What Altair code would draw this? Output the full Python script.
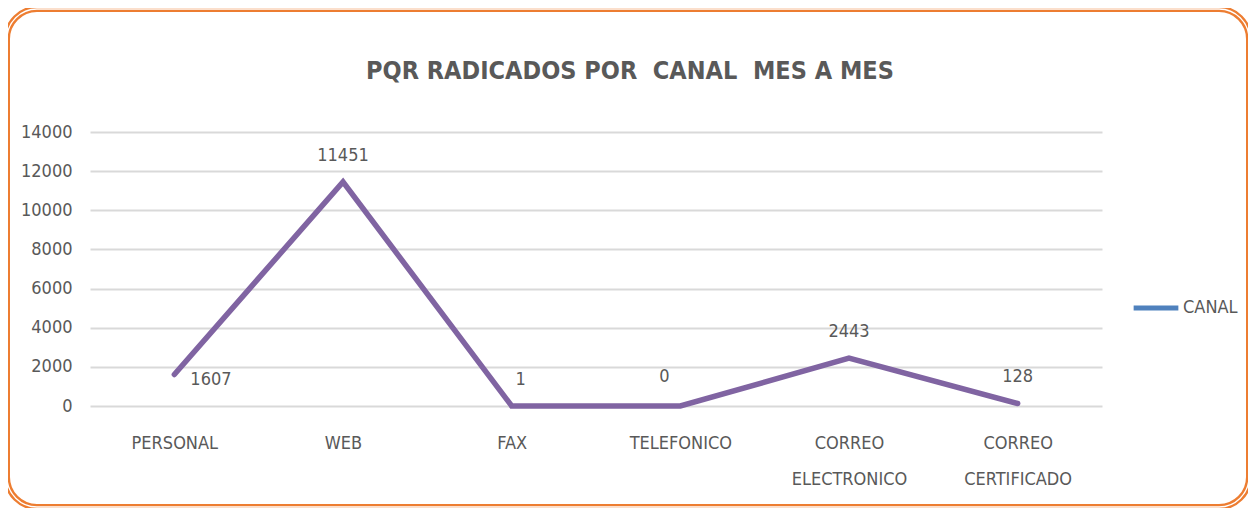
import altair as alt
import pandas as pd

categorias = ["PERSONAL", "WEB", "FAX", "TELEFONICO", "CORREO ELECTRONICO", "CORREO CERTIFICADO"]
valores = [1607, 11451, 1, 0, 2443, 128]
serie = "CANAL"
titulo = "PQR RADICADOS POR \u00a0CANAL \u00a0MES A MES"

df = pd.DataFrame({"canal": categorias, "valor": valores, "serie": [serie] * len(categorias)})

FONT = "Liberation Sans Narrow, Arial Narrow, DejaVu Sans Condensed, sans-serif"
GRAY = "#595959"
PURPLE = "#8064A2"
BLUE = "#4F81BD"
ORANGE = "#ED7D31"
FS = 18

x_enc = alt.X("canal:N", sort=categorias, scale=alt.Scale(type="point", padding=0.5),
              axis=alt.Axis(title=None, labelExpr="split(datum.label, ' ')", labelAngle=0,
                            labelLineHeight=36, labelPadding=28, ticks=False, domain=False,
                            grid=False, labelFontSize=FS, labelColor=GRAY, labelFont=FONT,
                            labelBaseline="top"))
y_enc = alt.Y("valor:Q", scale=alt.Scale(domain=[0, 14000], nice=False),
              axis=alt.Axis(title=None, values=list(range(0, 14001, 2000)), format="d",
                            labelOverlap=False, ticks=False,
                            domain=False, labelPadding=18, labelFontSize=FS, labelColor=GRAY,
                            labelFont=FONT, gridColor="#D9D9D9", gridWidth=2))

base = alt.Chart(df)

line = base.mark_line(strokeWidth=5.5, strokeCap="round", strokeJoin="miter", color=PURPLE).encode(
    x=x_enc, y=y_enc)

# legend-only layer (single point: draws no visible line)
leyenda = base.transform_filter(alt.datum.canal == "PERSONAL").mark_line(
    strokeWidth=5, strokeCap="butt").encode(
    x=x_enc, y=y_enc,
    color=alt.Color("serie:N", scale=alt.Scale(range=[BLUE]),
                    legend=alt.Legend(title=None, orient="none", legendX=1041, legendY=151,
                                      symbolType="stroke", symbolSize=2000, symbolStrokeWidth=5,
                                      labelFont=FONT, labelFontSize=FS, labelColor=GRAY,
                                      labelOffset=2)))

def etiqueta(filtro, **kw):
    return base.transform_filter(filtro).mark_text(
        font=FONT, fontSize=FS, color=GRAY, baseline="middle", **kw
    ).encode(x=x_enc, y=y_enc, text="valor:Q")

lab_right = etiqueta(alt.datum.canal == "PERSONAL", dx=16, dy=5, align="left")
lab_above = etiqueta(alt.FieldOneOfPredicate(field="canal",
                     oneOf=["WEB", "CORREO ELECTRONICO", "CORREO CERTIFICADO"]), dy=-26)
lab_fax = etiqueta(alt.datum.canal == "FAX", dx=9, dy=-26)
lab_tel = etiqueta(alt.datum.canal == "TELEFONICO", dx=-16, dy=-29)

marco_data = alt.Data(values=[{"m": 1}])
marco = alt.Chart(marco_data).mark_rect(filled=False, stroke=ORANGE, strokeWidth=6, cornerRadius=30).encode(
    x=alt.value(-83), x2=alt.value(1159), y=alt.value(-123), y2=alt.value(375))
marco_in = alt.Chart(marco_data).mark_rect(filled=False, stroke="white", strokeWidth=1.3, cornerRadius=30).encode(
    x=alt.value(-83), x2=alt.value(1159), y=alt.value(-123), y2=alt.value(375))
titulo_mark = alt.Chart(marco_data).mark_text(
    font=FONT, fontSize=25, fontWeight="bold", color=GRAY, align="center", baseline="middle"
).encode(x=alt.value(540), y=alt.value(-61), text=alt.value(titulo))

chart = alt.layer(marco, marco_in, titulo_mark, line, leyenda,
                  lab_right, lab_above, lab_fax, lab_tel).properties(
    width=1012, height=274,
    background="white",
    autosize=alt.AutoSizeParams(type="none"),
    padding={"left": 82, "top": 124, "right": 146, "bottom": 102},
).configure_view(strokeWidth=0, stroke=None)

chart.save("out.html", embed_options={"renderer": "svg", "actions": False})
